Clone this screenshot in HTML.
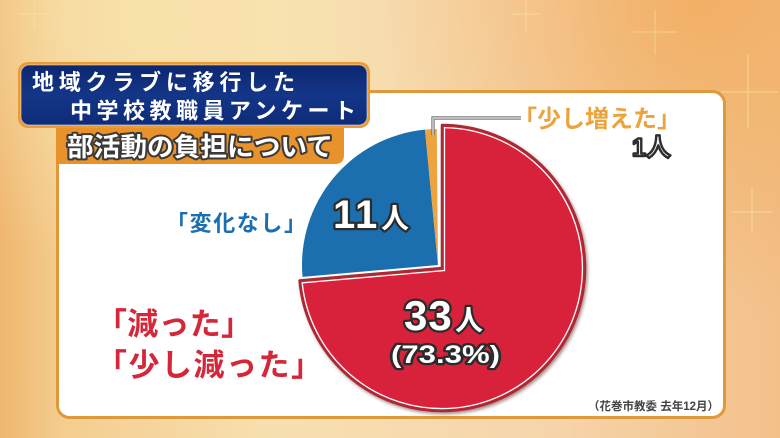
<!DOCTYPE html>
<html><head><meta charset="utf-8">
<style>
html,body{margin:0;padding:0;background:#f4cf98;}
svg{display:block;}
text{font-family:"Liberation Sans","Noto Sans CJK JP",sans-serif;font-weight:700;}
</style></head>
<body>
<svg width="780" height="438" viewBox="0 0 780 438" xmlns="http://www.w3.org/2000/svg">
<defs>
  <linearGradient id="bgH" x1="0" y1="0" x2="1" y2="0">
    <stop offset="0" stop-color="#efb66f"/>
    <stop offset="0.08" stop-color="#f4cd8f"/>
    <stop offset="0.35" stop-color="#f7e0b0"/>
    <stop offset="0.7" stop-color="#f6d5ab"/>
    <stop offset="1" stop-color="#f3c08a"/>
  </linearGradient>
  <radialGradient id="bgTR" cx="700" cy="0" r="320" gradientUnits="userSpaceOnUse">
    <stop offset="0" stop-color="#f1ad60" stop-opacity="0.9"/>
    <stop offset="1" stop-color="#f1ad60" stop-opacity="0"/>
  </radialGradient>
  <radialGradient id="bgTL" cx="150" cy="20" r="260" gradientUnits="userSpaceOnUse">
    <stop offset="0" stop-color="#f8e4ae" stop-opacity="0.9"/>
    <stop offset="1" stop-color="#f8e4ae" stop-opacity="0"/>
  </radialGradient>
  <linearGradient id="navy" x1="0" y1="0" x2="0" y2="1">
    <stop offset="0" stop-color="#0c2670"/>
    <stop offset="0.5" stop-color="#143688"/>
    <stop offset="1" stop-color="#0e2b78"/>
  </linearGradient>
  <filter id="sh" x="-10%" y="-10%" width="120%" height="120%">
    <feDropShadow dx="1.5" dy="2" stdDeviation="1.6" flood-color="#4a1010" flood-opacity="0.45"/>
  </filter>
</defs>

<!-- background -->
<rect x="0" y="0" width="780" height="438" fill="url(#bgH)"/>
<rect x="0" y="0" width="780" height="438" fill="url(#bgTR)"/>
<rect x="0" y="0" width="780" height="438" fill="url(#bgTL)"/>

<!-- sparkles -->
<g stroke="#fbe7a0" stroke-linecap="round" opacity="0.45">
  <line x1="34" y1="2" x2="34" y2="28" stroke-width="1.5"/>
  <line x1="20" y1="14" x2="50" y2="14" stroke-width="1.5"/>
  <line x1="526" y1="2" x2="526" y2="30" stroke-width="1.5"/>
  <line x1="512" y1="14" x2="540" y2="14" stroke-width="1.5"/>
  <line x1="655" y1="10" x2="655" y2="54" stroke-width="1.2"/>
  <line x1="633" y1="32" x2="677" y2="32" stroke-width="1.2"/>
  <line x1="748" y1="55" x2="748" y2="128" stroke-width="1.6"/>
  <line x1="722" y1="92" x2="778" y2="92" stroke-width="1.6"/>
  <line x1="752" y1="188" x2="752" y2="232" stroke-width="1.4"/>
  <line x1="732" y1="212" x2="772" y2="212" stroke-width="1.4"/>
</g>

<!-- white panel -->
<rect x="57.5" y="91.5" width="667" height="326" rx="12" ry="12" fill="#ffffff" stroke="#de993a" stroke-width="3"/>

<!-- orange sub banner -->
<path d="M56,124 H344 V155 Q344,164 335,164 H56 Z" fill="#e8922b"/>

<!-- title box -->
<rect x="18" y="62" width="352" height="66" rx="10" ry="10" fill="#ea9b36"/>
<rect x="21" y="65" width="346" height="60" rx="8" ry="8" fill="url(#navy)" stroke="#e9eef8" stroke-opacity="0.55" stroke-width="1"/>

<text x="32" y="90" font-size="22" fill="#ffffff" textLength="263" lengthAdjust="spacing">地域クラブに移行した</text>
<text x="70" y="118.5" font-size="22" fill="#ffffff" textLength="286" lengthAdjust="spacing">中学校教職員アンケート</text>

<text x="67" y="156" font-size="26" fill="#ffffff" stroke="#3a3a3a" stroke-width="4" stroke-linejoin="round" paint-order="stroke" textLength="266" lengthAdjust="spacingAndGlyphs">部活動の負担について</text>

<!-- pie -->
<path d="M438,265 L302.52,276.85 A136,136 0 0 1 424.97,129.62 Z" fill="#1b6fae"/>
<path d="M438,265 L424.97,129.62 A136,136 0 0 1 436.8,129 Z" fill="#eea43e"/>
<g filter="url(#sh)">
  <path d="M442,268 L442,125 A143,143 0 1 1 299.54,280.46 Z" fill="#d8213a" stroke="#a82a32" stroke-width="2.5" stroke-linejoin="round"/>
</g>
<path d="M444.5,270.5 L444.5,127.6 A140.5,140.5 0 1 1 302.2,282.9 Z" fill="none" stroke="#ffffff" stroke-width="1.3" stroke-linejoin="miter"/>

<!-- leader line -->
<path d="M433,135 V118 H521" fill="none" stroke="#666" stroke-width="3.2"/>
<path d="M433,135 V118 H521" fill="none" stroke="#f2f2f2" stroke-width="1.2"/>

<!-- labels -->
<text x="513" y="127" font-size="24" fill="#eba43d" textLength="168" lengthAdjust="spacing">「少し増えた」</text>
<text x="632" y="156" font-size="25" fill="#f6f6f6" stroke="#2e2e2e" stroke-width="2.4" stroke-linejoin="round">1人</text>

<text x="166" y="231" font-size="22" fill="#1b6fae" textLength="140" lengthAdjust="spacing">「変化なし」</text>

<text x="96" y="335" font-size="31" fill="#d4283a" textLength="156" lengthAdjust="spacing">「減った」</text>
<text x="96" y="376" font-size="31" fill="#d4283a" textLength="226" lengthAdjust="spacing">「少し減った」</text>

<g fill="#ffffff" stroke="#2b2b2b" stroke-width="4.5" stroke-linejoin="round" paint-order="stroke">
  <text x="333" y="228" font-size="40" letter-spacing="2">11<tspan x="381" font-size="28" letter-spacing="0">人</tspan></text>
  <text x="404" y="330" font-size="42" letter-spacing="1">33<tspan x="455" font-size="28" letter-spacing="0">人</tspan></text>
  <text x="391" y="363" font-size="25" textLength="109" lengthAdjust="spacingAndGlyphs">(73.3%)</text>
</g>

<text x="588" y="410" font-size="11.5" fill="#444" textLength="131" lengthAdjust="spacingAndGlyphs">（花巻市教委 去年12月）</text>
</svg>
</body></html>
